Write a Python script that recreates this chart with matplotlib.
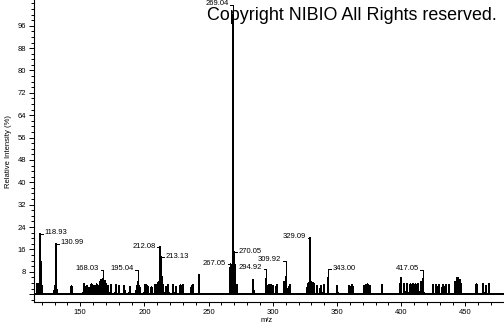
import matplotlib
matplotlib.use("Agg")
import matplotlib.pyplot as plt
from matplotlib.ticker import MultipleLocator, FixedLocator

plt.rcParams["font.family"] = ["Liberation Sans", "DejaVu Sans"]

# peak list (m/z, relative intensity %)
peak_mz = [
    116.4, 117.4, 118.93, 119.9, 129.99, 130.99, 132.0, 143.2,
    152.8, 154.9, 156.9, 158.8, 160.6, 162.7, 165.1, 166.1, 167.0, 168.03, 169.0,
    170.0, 171.7, 173.8, 177.7, 180.3, 184.3, 188.6, 194.0, 195.04, 196.1,
    200.3, 201.6, 202.9, 205.5, 208.1, 209.4, 210.7, 211.4, 212.08, 213.13,
    214.6, 216.7, 218.5, 222.4, 224.5, 228.1, 230.1, 236.7, 237.9, 242.6,
    267.05, 267.9, 269.04, 270.05, 271.0, 271.9, 284.7, 294.92, 296.9, 298.7,
    300.2, 302.9, 308.9, 309.92, 310.9, 313.0, 327.1, 328.1, 329.09, 330.1,
    331.1, 332.0, 334.5, 337.2, 339.7, 343.0, 350.1, 359.2, 361.3, 362.3,
    370.9, 372.4, 373.8, 375.3, 385.1, 399.5, 402.3, 404.6, 407.2, 409.3,
    411.1, 413.1, 415.2, 417.05, 424.8, 427.4, 429.5, 432.2, 434.5, 437.1,
    441.9, 443.1, 444.4, 445.6, 446.5, 458.6, 463.8, 466.1, 468.2,
]
peak_int = [
    3.6, 3.8, 21.5, 3.0, 1.4, 17.9, 1.4, 2.9,
    3.6, 2.9, 2.2, 3.6, 2.9, 3.6, 4.5, 5.0, 5.2, 5.5, 4.8,
    3.6, 2.9, 3.2, 3.2, 2.9, 2.9, 2.5, 2.9, 4.5, 2.9,
    3.2, 3.2, 2.5, 2.5, 3.2, 3.2, 4.0, 4.5, 16.8, 13.2,
    3.2, 2.5, 3.2, 3.2, 2.5, 3.2, 3.2, 3.0, 3.2, 7.0,
    10.7, 3.3, 100.0, 15.0, 3.3, 3.3, 5.0, 5.5, 3.3, 3.3,
    3.0, 3.3, 4.5, 6.0, 2.0, 3.3, 3.7, 4.0, 20.1, 4.0,
    4.0, 3.5, 3.0, 3.0, 3.3, 5.8, 2.8, 3.0, 3.3, 2.5,
    3.0, 3.3, 3.5, 3.0, 3.3, 5.8, 3.5, 3.5, 3.5, 3.5,
    3.5, 3.5, 4.3, 5.5, 3.3, 3.3, 3.3, 3.3, 3.3, 3.3,
    4.5, 5.7, 5.9, 5.0, 3.5, 3.5, 3.5, 3.0, 3.5,
]

# annotated peaks: label, label height, side of the text
label_mz = [118.93, 130.99, 168.03, 195.04, 212.08, 213.13, 267.05,
            269.04, 270.05, 294.92, 309.92, 329.09, 343.00, 417.05]
label_y = [21.5, 17.9, 8.6, 8.6, 16.8, 13.2, 10.7,
           103.4, 15.0, 9.1, 11.9, 20.1, 8.9, 8.6]
label_side = ["r", "r", "l", "l", "l", "r", "l",
              "l", "r", "l", "l", "l", "r", "l"]

XMIN, XMAX = 114, 480
W = 0.3
LW = 0.72  # one pixel at 100 dpi

# profile trace: each centroid drawn as a narrow spike on the zero baseline
xs, ys = [XMIN], [0]
for m, v in zip(peak_mz, peak_int):
    xs += [m - W, m, m + W]
    ys += [0, v, 0]
xs.append(XMAX); ys.append(0)

fig = plt.figure(figsize=(5.04, 3.25), dpi=100)
ax = fig.add_axes([34 / 504, 23.3 / 325, 1 - 34 / 504, 1 - 23.3 / 325])
ax.plot(xs, ys, color="black", lw=LW, antialiased=False)

lookup = dict(zip(peak_mz, peak_int))
for m, ly, side in zip(label_mz, label_y, label_side):
    top = lookup.get(m, 0)
    if ly > top:
        ax.plot([m, m], [top, ly], color="black", lw=LW, antialiased=False)
    d = -1 if side == "l" else 1
    ax.plot([m, m + d * 2.1], [ly, ly], color="black", lw=LW, antialiased=False)
    ax.text(m + d * 3.4, ly + 0.4, f"{m:.2f}", ha="right" if side == "l" else "left",
            va="center", fontsize=5.5)

ax.set_xlim(XMIN, XMAX)
ax.set_ylim(-2.7, 105.2)
ax.spines["top"].set_visible(False)
ax.spines["right"].set_visible(False)
for s in ("left", "bottom"):
    ax.spines[s].set_linewidth(0.8)

ax.xaxis.set_major_locator(MultipleLocator(50))
ax.xaxis.set_minor_locator(MultipleLocator(10))
ax.yaxis.set_major_locator(FixedLocator(list(range(0, 97, 8))))
ax.yaxis.set_minor_locator(MultipleLocator(2))
ax.set_yticklabels([""] + [str(v) for v in range(8, 97, 8)])
ax.tick_params(axis="both", which="major", labelsize=5.5, width=0.7, color="black")
ax.tick_params(axis="y", which="major", length=3.6, pad=1.9)
ax.tick_params(axis="y", which="minor", length=2.2, width=0.7)
ax.tick_params(axis="x", which="major", length=3.0, pad=2.0)
ax.tick_params(axis="x", which="minor", length=2.0, width=0.7)

fig.text(0.016, 0.535, "Relative Intensity (%)", rotation=90, ha="center",
         va="center", fontsize=5.5)
fig.text(0.528, 0.013, "m/z", ha="center", va="center", fontsize=5.5)
fig.text(207 / 504, 1 - 20.3 / 325, "Copyright NIBIO All Rights reserved.",
         ha="left", va="baseline", fontsize=12.9)

fig.savefig("out.png", dpi=100)
